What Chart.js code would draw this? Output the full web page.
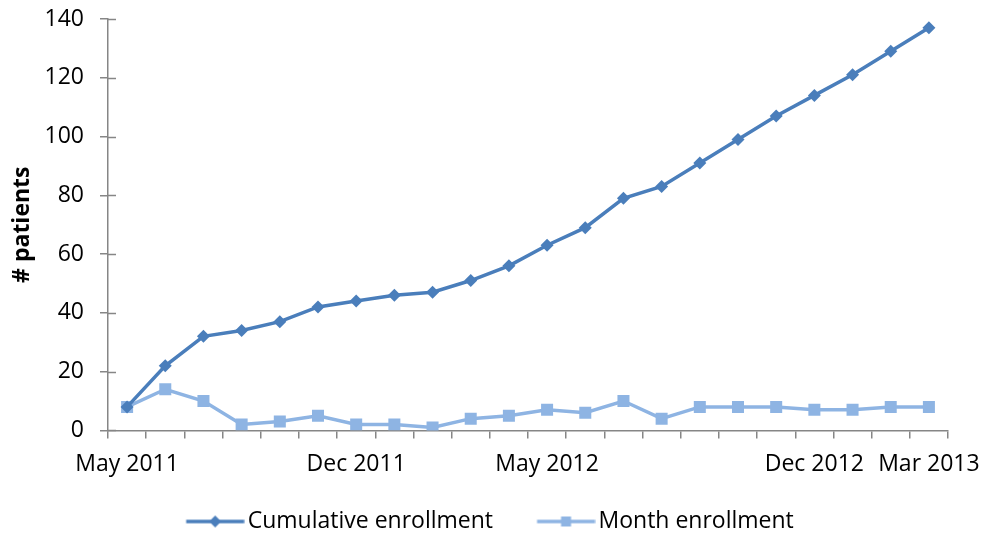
<!DOCTYPE html>
<html>
<head>
<meta charset="utf-8">
<script src="https://cdn.jsdelivr.net/npm/chart.js@4"></script>
<style>
  html, body { margin: 0; padding: 0; background: #fff; }
  #wrap { width: 985px; height: 533px; position: relative; }
</style>
</head>
<body>
<div id="wrap"><canvas id="enrollChart"></canvas></div>
<script>
const months = [
  "May 2011", "", "", "", "", "", "Dec 2011", "", "", "", "",
  "May 2012", "", "", "", "", "", "", "Dec 2012", "", "", "Mar 2013"
];
const cumulative = [8, 22, 32, 34, 37, 42, 44, 46, 47, 51, 56, 63, 69, 79, 83, 91, 99, 107, 114, 121, 129, 137];
const monthly = [8, 14, 10, 2, 3, 5, 2, 2, 1, 4, 5, 7, 6, 10, 4, 8, 8, 8, 7, 7, 8, 8];
const yTicks = [0, 20, 40, 60, 80, 100, 120, 140];

const darkBlue = "#4a7ebb";
const lightBlue = "#8eb4e3";
const axisGray = "#868686";
const fontFamily = "'Open Sans', sans-serif";
const fontSize = 23;

// legend swatch: line + marker, with blank space on the left that
// acts as the gap between legend entries
function legendSwatch(color, marker) {
  const c = document.createElement("canvas");
  c.width = 111;
  c.height = 14;
  const g = c.getContext("2d");
  g.strokeStyle = color;
  g.lineWidth = 3.5;
  g.beginPath();
  g.moveTo(52.5, 7);
  g.lineTo(110.5, 7);
  g.stroke();
  g.fillStyle = color;
  const mid = 81.5;
  if (marker === "diamond") {
    g.beginPath();
    g.moveTo(mid, 1);
    g.lineTo(mid + 6, 7);
    g.lineTo(mid, 13);
    g.lineTo(mid - 6, 7);
    g.closePath();
    g.fill();
  } else {
    g.fillRect(mid - 5, 2, 10, 10);
  }
  return c;
}

// y ticks in the source style cross the axis, so add the inner half
const innerTicks = {
  id: "innerTicks",
  afterDraw(chart) {
    const y = chart.scales.y;
    const g = chart.ctx;
    g.save();
    g.strokeStyle = axisGray;
    g.lineWidth = 1.5;
    y.ticks.forEach((t) => {
      const py = Math.round(y.getPixelForValue(t.value)) + 0.5;
      g.beginPath();
      g.moveTo(y.right, py);
      g.lineTo(y.right + 8, py);
      g.stroke();
    });
    g.restore();
  }
};

const ctx = document.getElementById("enrollChart").getContext("2d");
new Chart(ctx, {
  type: "line",
  data: {
    labels: months,
    datasets: [
      {
        label: "Cumulative enrollment",
        data: cumulative,
        borderColor: darkBlue,
        backgroundColor: darkBlue,
        borderWidth: 3.5,
        pointStyle: "rectRot",
        pointRadius: 6.5,
        pointBorderWidth: 0,
        tension: 0
      },
      {
        label: "Month enrollment",
        data: monthly,
        borderColor: lightBlue,
        backgroundColor: lightBlue,
        borderWidth: 3.5,
        pointStyle: "rect",
        pointRadius: 8.5,
        pointBorderWidth: 0,
        tension: 0
      }
    ]
  },
  options: {
    responsive: true,
    maintainAspectRatio: false,
    animation: false,
    layout: { padding: { top: 19, right: 37, bottom: -10, left: -12 } },
    plugins: {
      tooltip: { enabled: false },
      legend: {
        position: "bottom",
        labels: {
          usePointStyle: true,
          pointStyleWidth: 94,
          padding: 0,
          color: "#000",
          font: { family: fontFamily, size: fontSize },
          generateLabels: (chart) => chart.data.datasets.map((ds, i) => ({
            text: ds.label,
            pointStyle: legendSwatch(ds.borderColor, i === 0 ? "diamond" : "square"),
            fillStyle: ds.borderColor,
            strokeStyle: ds.borderColor,
            lineWidth: 0,
            datasetIndex: i
          }))
        }
      }
    },
    scales: {
      x: {
        offset: true,
        afterFit: (scale) => {
          scale.height += 20;
          scale.paddingLeft = 0;
          scale.paddingRight = 0;
        },
        border: { color: axisGray, width: 1.5 },
        grid: { offset: true, drawOnChartArea: false, drawTicks: true, tickLength: 8, color: axisGray, lineWidth: 1.5 },
        ticks: {
          autoSkip: false,
          maxRotation: 0,
          padding: 12,
          color: "#000",
          font: { family: fontFamily, size: fontSize }
        }
      },
      y: {
        min: 0,
        max: 140,
        afterBuildTicks: (scale) => { scale.ticks = yTicks.map(v => ({ value: v })); },
        afterFit: (scale) => {
          scale.width = 120;
          scale.paddingTop = 0;
          scale.paddingBottom = 0;
        },
        border: { color: axisGray, width: 1.5 },
        grid: { drawOnChartArea: false, drawTicks: true, tickLength: 8, color: axisGray, lineWidth: 1.5 },
        ticks: {
          padding: 16,
          color: "#000",
          font: { family: fontFamily, size: fontSize }
        },
        title: {
          display: true,
          text: "# patients",
          color: "#000",
          padding: { top: 21, bottom: 0 },
          font: { family: fontFamily, size: fontSize, weight: "bold" }
        }
      }
    }
  },
  plugins: [innerTicks]
});
</script>
</body>
</html>
